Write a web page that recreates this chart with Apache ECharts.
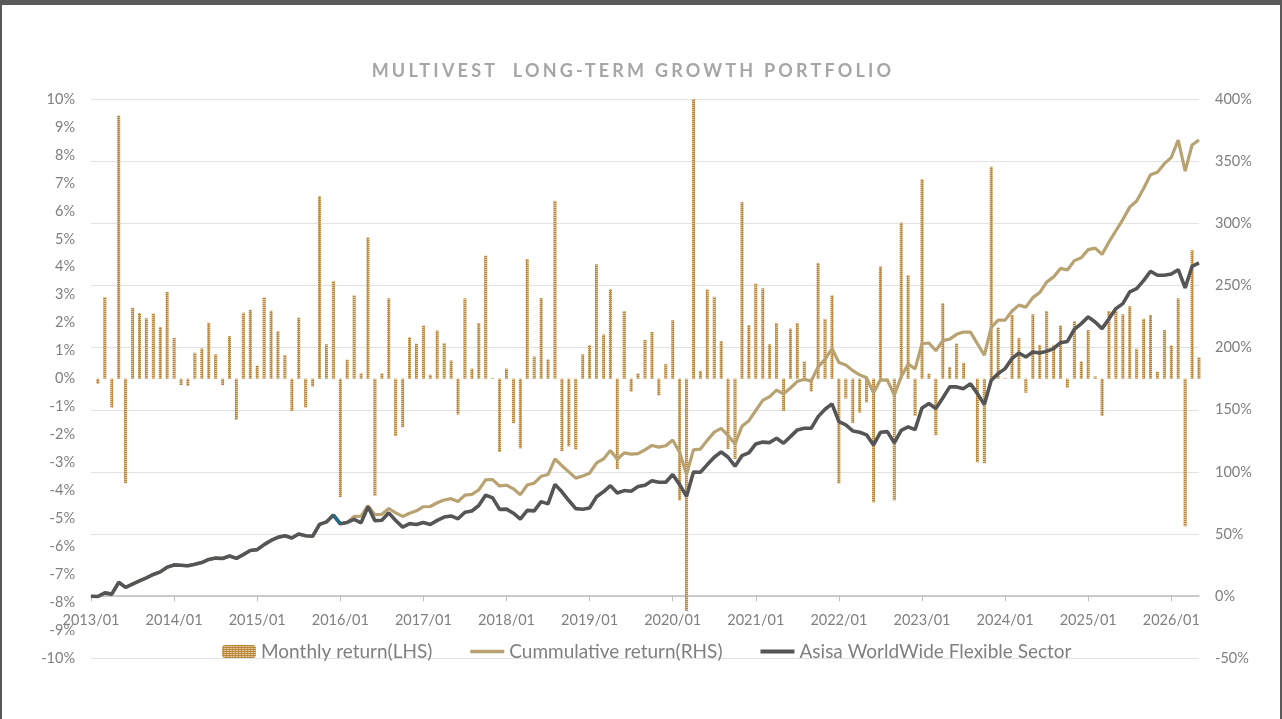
<!DOCTYPE html>
<html>
<head>
<meta charset="utf-8">
<script src="https://cdn.jsdelivr.net/npm/echarts@6/dist/echarts.min.js"></script>
<style>
html,body{margin:0;padding:0;background:#fff;}
#chart{position:absolute;left:0;top:0;width:1282px;height:719px;}
#frame{position:absolute;left:0;top:0;width:1282px;height:719px;box-sizing:border-box;border-top:5px solid #595959;border-left:2px solid #595959;border-right:2px solid #595959;pointer-events:none;}
#title{position:absolute;top:59px;left:-8px;width:1282px;text-align:center;font-family:Lato;font-weight:bold;font-size:18px;letter-spacing:3.2px;color:#A6A6A6;white-space:pre;}
</style>
</head>
<body>
<div id="chart"></div>
<div id="title">MULTIVEST  LONG-TERM GROWTH PORTFOLIO</div>
<div id="frame"></div>
<script>
// ---- data ----
const startYear = 2013, startMonth = 1;

const monthlyReturn = [null,
  -0.18, 2.92, -1.03, 9.41, -3.74, 2.53, 2.35, 2.16, 2.33, 1.85,
  3.10, 1.46, -0.23, -0.26, 0.93, 1.08, 2.00, 0.87, -0.23, 1.52,
  -1.47, 2.36, 2.46, 0.47, 2.91, 2.43, 1.70, 0.85, -1.15, 2.18,
  -1.03, -0.28, 6.52, 1.23, 3.49, -4.23, 0.68, 2.98, 0.19, 5.05,
  -4.19, 0.19, 2.87, -2.05, -1.73, 1.48, 1.25, 1.90, 0.14, 1.72,
  1.27, 0.65, -1.28, 2.87, 0.36, 1.99, 4.40, 0.02, -2.62, 0.36,
  -1.59, -2.49, 4.28, 0.79, 2.88, 0.69, 6.36, -2.59, -2.42, -2.53,
  0.87, 1.20, 4.09, 1.58, 3.20, -3.23, 2.42, -0.46, 0.19, 1.39,
  1.67, -0.60, 0.52, 2.09, -4.35, -8.30, 10.0, 0.28, 3.19, 2.93,
  1.35, -2.51, -2.87, 6.31, 1.92, 3.40, 3.23, 1.23, 1.99, -1.15,
  1.79, 1.99, 0.62, -0.46, 4.14, 2.14, 2.98, -3.74, -0.71, -1.58,
  -1.21, -0.85, -4.42, 4.01, -0.11, -4.35, 5.58, 3.70, -1.33, 7.13,
  0.18, -2.02, 2.70, 0.42, 1.26, 0.57, 0.00, -2.99, -3.02, 7.58,
  1.83, 0.02, 2.28, 1.45, -0.50, 2.30, 1.21, 2.42, 1.21, 1.90,
  -0.32, 2.06, 0.62, 1.74, 0.08, -1.33, 2.42, 2.42, 2.30, 2.59,
  1.07, 2.14, 2.28, 0.25, 1.74, 1.19, 2.87, -5.28, 4.59, 0.76
];

const cumulativeReturn = [
  0, -0.2, 2.7, 1.7, 11.2, 7.1, 9.8, 12.4, 14.8, 17.5,
  19.6, 23.4, 25.2, 24.9, 24.5, 25.7, 27.1, 29.6, 30.7, 30.4,
  32.4, 30.5, 33.5, 36.8, 37.5, 41.5, 44.9, 47.4, 48.6, 46.9,
  50.1, 48.6, 48.2, 57.8, 59.8, 65.3, 58.3, 59.4, 64.2, 64.5,
  72.8, 65.6, 65.9, 70.6, 67.1, 64.2, 66.7, 68.7, 72.0, 72.2,
  75.2, 77.4, 78.5, 76.2, 81.3, 82.0, 85.6, 93.7, 93.8, 88.7,
  89.4, 86.4, 81.7, 89.5, 91.0, 96.5, 97.9, 110.4, 105.0, 100.0,
  95.0, 96.7, 99.0, 107.2, 110.4, 117.2, 110.2, 115.3, 114.3, 114.7,
  117.7, 121.3, 120.0, 121.1, 125.7, 115.9, 98.0, 117.8, 118.4, 125.4,
  132.0, 135.1, 129.2, 122.6, 136.7, 141.2, 149.4, 157.5, 160.6, 165.8,
  162.8, 167.5, 172.8, 174.5, 173.2, 184.5, 190.6, 199.3, 188.1, 186.0,
  181.5, 178.1, 175.7, 163.6, 174.1, 173.8, 161.9, 176.5, 186.8, 182.9,
  203.1, 203.7, 197.5, 205.6, 206.8, 210.7, 212.5, 212.5, 203.1, 194.0,
  216.3, 222.1, 222.1, 229.5, 234.2, 232.6, 240.2, 244.3, 252.7, 256.9,
  263.7, 262.5, 270.0, 272.3, 278.8, 280.0, 275.0, 285.0, 294.0, 303.0,
  313.0, 318.0, 328.0, 339.0, 341.0, 348.0, 353.0, 367.0, 342.0, 363.0, 367.0
];

const sectorReturn = [
  0, -0.2, 2.7, 1.7, 11.2, 7.1, 9.8, 12.4, 14.8, 17.5,
  19.6, 23.4, 25.2, 24.9, 24.5, 25.7, 27.1, 29.6, 30.7, 30.4,
  32.4, 30.5, 33.5, 36.8, 37.5, 41.5, 44.9, 47.4, 48.6, 46.9,
  50.1, 48.6, 48.2, 57.8, 59.8, 65.3, 58.3, 59.4, 61.8, 59.1,
  72.0, 60.8, 61.1, 67.1, 60.9, 55.6, 58.4, 57.7, 59.4, 57.7,
  61.0, 63.7, 64.6, 62.3, 67.6, 68.6, 73.0, 81.4, 79.1, 69.9,
  70.1, 66.8, 62.1, 69.1, 68.7, 76.1, 74.3, 90.0, 84.0, 77.0,
  70.5, 70.0, 71.0, 80.0, 84.0, 89.0, 83.0, 85.0, 84.5, 88.2,
  89.3, 93.0, 91.7, 91.7, 97.9, 89.8, 80.4, 100.0, 99.7, 105.9,
  111.8, 116.1, 111.8, 104.6, 113.1, 115.3, 122.5, 124.0, 123.6, 127.1,
  123.1, 128.4, 133.8, 135.1, 135.1, 144.5, 150.4, 154.7, 140.5, 137.8,
  133.0, 131.9, 129.8, 121.7, 131.9, 132.4, 123.4, 133.5, 136.2, 134.0,
  151.5, 155.0, 151.0, 159.5, 168.4, 168.4, 167.0, 171.0, 163.0, 154.2,
  173.7, 179.1, 183.1, 191.2, 195.7, 192.5, 196.5, 195.7, 197.0, 199.2,
  204.0, 205.0, 214.7, 219.3, 224.7, 220.6, 215.3, 223.3, 231.4, 235.4,
  244.8, 247.5, 253.9, 261.4, 258.2, 258.2, 259.2, 262.7, 248.0, 265.4, 268.1
];

// short segment drawn in teal in the reference (indices into sectorReturn)
const tealSegmentIdx = [35, 36];

const seriesNames = ['Monthly return(LHS)', 'Cummulative return(RHS)', 'Asisa WorldWide Flexible Sector'];

// axis ranges
const leftMin = -10, leftMax = 10, leftStep = 1;
const rightMin = -50, rightMax = 400, rightStep = 50;

// ---- build categories (one per month) ----
const categories = [];
for (let i = 0; i < monthlyReturn.length; i++) {
  const m0 = startMonth - 1 + i;
  const y = startYear + Math.floor(m0 / 12);
  const m = (m0 % 12) + 1;
  categories.push(y + '/' + (m < 10 ? '0' + m : m));
}
const tealData = sectorReturn.map((v, i) => tealSegmentIdx.indexOf(i) >= 0 ? v : null);

function makePattern() {
  const c = document.createElement('canvas');
  c.width = 3; c.height = 2;
  const g = c.getContext('2d');
  g.fillStyle = '#E2C694'; g.fillRect(0, 0, 3, 2);
  g.fillStyle = '#B8873F'; g.fillRect(0, 0, 3, 1);
  g.fillStyle = '#C99A55'; g.fillRect(1, 1, 1, 1);
  return c;
}
const barPattern = { image: makePattern(), repeat: 'repeat' };

const isYearStart = (idx, val) => /\/01$/.test(val);
const labelColor = '#7F7F7F';
const font = 'Lato';

const W = 1282, H = 719;
const gridTop = 99, gridBottom = 60.6, gridLeft = 91, gridRight = 83;
const gridH = H - gridTop - gridBottom;
// x axis sits on the right axis' zero line
const xAxisOffset = -gridH * (0 - rightMin) / (rightMax - rightMin);

const chart = echarts.init(document.getElementById('chart'), null, { renderer: 'canvas' });
chart.setOption({
  animation: false,
  backgroundColor: '#ffffff',
  textStyle: { fontFamily: font },
  grid: { left: gridLeft, right: gridRight, top: gridTop, bottom: gridBottom, containLabel: false },
  legend: {
    data: [
      { name: seriesNames[0] },
      { name: seriesNames[1], icon: 'path://M0,0H34V3.4H0Z' },
      { name: seriesNames[2], icon: 'path://M0,0H34V3.8H0Z' }
    ],
    left: 222, top: 642, padding: 0,
    itemWidth: 34, itemHeight: 13, itemGap: 38,
    textStyle: { color: labelColor, fontSize: 19, fontFamily: font }
  },
  xAxis: {
    type: 'category',
    data: categories,
    boundaryGap: false,
    position: 'bottom',
    offset: xAxisOffset,
    axisLine: { onZero: false, lineStyle: { color: '#BFBFBF', width: 1.5 } },
    axisTick: { show: true, interval: isYearStart, length: 5, lineStyle: { color: '#BFBFBF', width: 1 } },
    axisLabel: { interval: isYearStart, color: labelColor, fontSize: 14.5, margin: 17, fontFamily: font },
    splitLine: { show: false }
  },
  yAxis: [
    {
      type: 'value', position: 'left', min: leftMin, max: leftMax, interval: leftStep,
      axisLine: { show: false }, axisTick: { show: false }, splitLine: { show: false },
      axisLabel: { formatter: '{value}%', color: labelColor, fontSize: 14.5, margin: 16, fontFamily: font }
    },
    {
      type: 'value', position: 'right', min: rightMin, max: rightMax, interval: rightStep,
      axisLine: { show: false }, axisTick: { show: false },
      splitLine: { show: true, lineStyle: { color: '#E2E2E2', width: 1 } },
      axisLabel: { formatter: '{value}%', color: labelColor, fontSize: 14.5, margin: 16, fontFamily: font }
    }
  ],
  series: [
    {
      name: seriesNames[0], type: 'bar', yAxisIndex: 0, data: monthlyReturn,
      barWidth: 3, itemStyle: { color: barPattern }, z: 2
    },
    {
      name: seriesNames[1], type: 'line', yAxisIndex: 1, data: cumulativeReturn,
      symbol: 'none', lineStyle: { color: '#B8A272', width: 3.2 }, itemStyle: { color: '#B8A272' }, z: 3
    },
    {
      name: seriesNames[2], type: 'line', yAxisIndex: 1, data: sectorReturn,
      symbol: 'none', lineStyle: { color: '#555555', width: 3.6 }, itemStyle: { color: '#555555' }, z: 4
    },
    {
      name: 'seg', type: 'line', yAxisIndex: 1, data: tealData,
      symbol: 'none', lineStyle: { color: '#1F6F8B', width: 3.2 }, z: 5, silent: true
    }
  ]
});
</script>
</body>
</html>
